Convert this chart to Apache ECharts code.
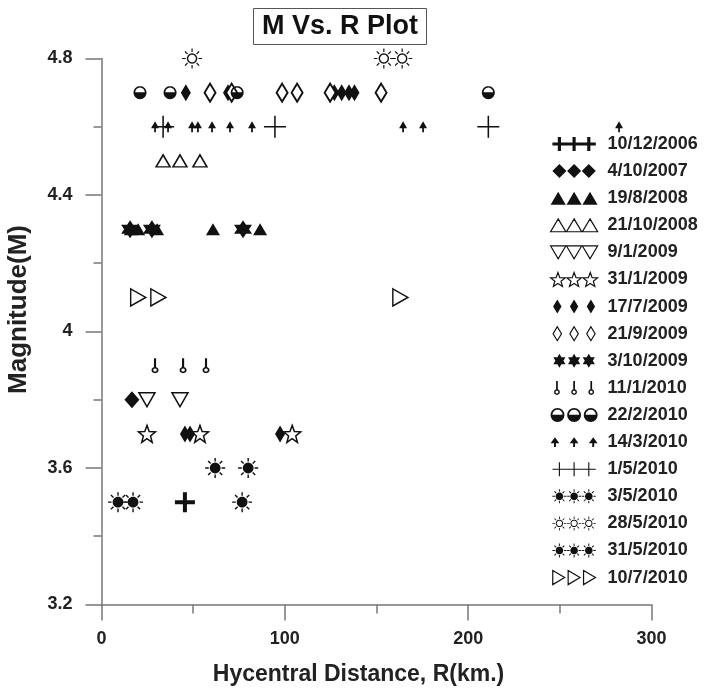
<!DOCTYPE html>
<html><head><meta charset="utf-8">
<script src="https://cdn.jsdelivr.net/npm/echarts@6/dist/echarts.min.js"></script>
<style>html,body{margin:0;padding:0;background:#fff}#c{width:709px;height:688px}</style>
</head><body><div id="c"></div>
<script>
// ---------- DATA ----------
const seriesNames = ['10/12/2006','4/10/2007','19/8/2008','21/10/2008','9/1/2009','31/1/2009','17/7/2009','21/9/2009','3/10/2009','11/1/2010','22/2/2010','14/3/2010','1/5/2010','3/5/2010','28/5/2010','31/5/2010','10/7/2010'];
const d_10_12_2006 = [[45.5,3.5]];
const d_4_10_2007  = [[16.6,3.8]];
const d_19_8_2008  = [[16,4.3],[20,4.3],[30.3,4.3],[60.8,4.3],[86.5,4.3]];
const d_21_10_2008 = [[33.6,4.5],[42.8,4.5],[53.7,4.5]];
const d_9_1_2009   = [[24.8,3.8],[42.8,3.8]];
const d_31_1_2009  = [[24.8,3.7],[53.7,3.7],[104,3.7]];
const d_17_7_2009  = [[45.5,3.7],[48.3,3.7],[97.4,3.7],[46,4.7],[69,4.7],[127,4.7],[131,4.7],[135,4.7],[138,4.7]];
const d_21_9_2009  = [[59.2,4.7],[71,4.7],[98.5,4.7],[106.7,4.7],[124.7,4.7],[152.5,4.7]];
const d_3_10_2009  = [[15.6,4.3],[27.5,4.3],[77.2,4.3]];
const d_11_1_2010  = [[29.2,3.9],[44.5,3.9],[57,3.9]];
const d_22_2_2010  = [[21,4.7],[37.4,4.7],[74,4.7],[211,4.7]];
const d_14_3_2010  = [[29.2,4.6],[36.3,4.6],[49.4,4.6],[52.6,4.6],[60.3,4.6],[70.1,4.6],[82.1,4.6],[164.5,4.6],[175.4,4.6],[282.3,4.6]];
const d_1_5_2010   = [[33.6,4.6],[94.6,4.6],[211,4.6]];
const d_3_5_2010   = [[9,3.5],[17.2,3.5],[76.7,3.5]];
const d_28_5_2010  = [[49.4,4.8],[154,4.8],[164,4.8]];
const d_31_5_2010  = [[62,3.6],[80,3.6]];
const d_10_7_2010  = [[20,4.1],[31,4.1],[163,4.1]];
const allData = [d_10_12_2006,d_4_10_2007,d_19_8_2008,d_21_10_2008,d_9_1_2009,d_31_1_2009,d_17_7_2009,d_21_9_2009,d_3_10_2009,d_11_1_2010,d_22_2_2010,d_14_3_2010,d_1_5_2010,d_3_5_2010,d_28_5_2010,d_31_5_2010,d_10_7_2010];
const xTicks = [0,100,200,300];
const yTicks = [3.2,3.6,4.0,4.4,4.8];

// ---------- SYMBOL GEOMETRY ----------
function ps(pts){return 'M'+pts.map(p=>p[0].toFixed(2)+','+p[1].toFixed(2)).join('L')+'Z';}
function circ(cx,cy,r,ccw,n){n=n||28;const a=[];for(let k=0;k<n;k++){const t=2*Math.PI*k/n;a.push([cx+r*Math.cos(t),cy+r*Math.sin(t)]);}if(ccw)a.reverse();return a;}
function sh(pts,dx){return pts.map(p=>[p[0]+dx,p[1]]);}
function rays(cx,cy,r1,r2,w){const out=[];for(let k=0;k<8;k++){const t=Math.PI*k/4,ux=Math.cos(t),uy=Math.sin(t),nx=-uy,ny=ux;out.push([[cx+r1*ux+w*nx,cy+r1*uy+w*ny],[cx+r2*ux+w*nx,cy+r2*uy+w*ny],[cx+r2*ux-w*nx,cy+r2*uy-w*ny],[cx+r1*ux-w*nx,cy+r1*uy-w*ny]]);}return out;}
function star5(){const a=[];for(let k=0;k<10;k++){const t=-Math.PI/2+k*Math.PI/5,r=k%2?4.2:10;a.push([10+r*Math.cos(t),10+r*Math.sin(t)]);}return a;}
function halfHole(){const a=[];const n=16;for(let k=0;k<=n;k++){const t=2*Math.PI-Math.PI*k/n;a.push([10+7.3*Math.cos(t),9.6+7.3*Math.sin(t)]);}return a;}
const shapes = {
  boldPlus:[[[8,0],[12,0],[12,8],[20,8],[20,12],[12,12],[12,20],[8,20],[8,12],[0,12],[0,8],[8,8]]],
  thinPlus:[[[9.3,0],[10.7,0],[10.7,9.3],[20,9.3],[20,10.7],[10.7,10.7],[10.7,20],[9.3,20],[9.3,10.7],[0,10.7],[0,9.3],[9.3,9.3]]],
  diamond:[[[10,0],[20,10],[10,20],[0,10]]],
  tri:[[[10,0],[20,17],[0,17]]],
  dtri:[[[0,0],[20,0],[10,17]]],
  star:[star5()],
  ndiamond:[[[10,0],[16,10],[10,20],[4,10]]],
  hexa:[[[10,0],[18.66,15],[1.34,15]],[[10,20],[1.34,5],[18.66,5]]],
  thermo:[[[8.8,0],[11.2,0],[11.2,11.6],[8.8,11.6]],circ(10,15.6,4,false),circ(10,15.6,2,true)],
  half:[circ(10,10,10,false,32),halfHole()],
  spade:[[[10,0],[15.5,7.5],[4.5,7.5]],[[8.8,7],[11.2,7],[11.2,12],[8.8,12]]],
  sunF:[circ(10,10,5.4,false)].concat(rays(10,10,6.4,10,0.7)),
  sunO:[circ(10,10,5.2,false),circ(10,10,3.8,true)].concat(rays(10,10,6.4,10,0.6)),
  rtri:[[[0,0],[17,10],[0,20]]]
};
function sym(name){return 'path://'+shapes[name].map(ps).join(' ');}
function triple(name,gap){gap=gap||21;let s=[];[0,gap,2*gap].forEach(dx=>shapes[name].forEach(p=>s.push(ps(sh(p,dx)))));return 'path://'+s.join(' ');}
function barLegend(h,w){const s=[ps([[0,10-h/2],[62,10-h/2],[62,10+h/2],[0,10+h/2]])];[10,31,52].forEach(c=>s.push(ps([[c-w/2,0],[c+w/2,0],[c+w/2,20],[c-w/2,20]])));return 'path://'+s.join(' ');}

const FILL='#111';
const styleDefs = [
  {shape:'boldPlus', size:[20,20], fill:FILL, legend:barLegend(4.5,4.5)},
  {shape:'diamond', size:[15,17], fill:FILL},
  {shape:'tri', size:[14,12], fill:FILL},
  {shape:'tri', size:[14,12], open:true},
  {shape:'dtri', size:[16,14], open:true},
  {shape:'star', size:[17,17], open:true},
  {shape:'ndiamond', size:[10,17], fill:FILL, gap:24},
  {shape:'ndiamond', size:[11,18], open:true, bw:2, gap:24},
  {shape:'hexa', size:[18,18], fill:FILL},
  {shape:'thermo', size:[7,15], fill:FILL, gap:24},
  {shape:'half', size:[13,13], fill:FILL, gap:24},
  {shape:'spade', size:[8,11], fill:FILL, gap:24},
  {shape:'thinPlus', size:[22,22], fill:FILL, legend:barLegend(1.6,1.6)},
  {shape:'sunF', size:[20,20], fill:FILL},
  {shape:'sunO', size:[20,20], fill:FILL},
  {shape:'sunF', size:[20,20], fill:FILL},
  {shape:'rtri', size:[15,17], open:true, gap:22}
];

const series = seriesNames.map((nm,i)=>{
  const st = styleDefs[i];
  return {
    name:nm, type:'scatter', data:allData[i],
    symbol:sym(st.shape), symbolSize:st.size, symbolKeepAspect:false,
    itemStyle: st.open ? {color:'#fff', borderColor:'#111', borderWidth:st.bw||1.5, opacity:1}
                       : {color:st.fill, borderWidth:0, opacity:1},
    emphasis:{disabled:true}, z: 2
  };
});
const legendData = seriesNames.map((nm,i)=>({
  name:nm,
  icon: styleDefs[i].legend || triple(styleDefs[i].shape, styleDefs[i].gap),
  itemStyle: styleDefs[i].open ? {color:'#fff', borderColor:'#111', borderWidth:1.2} : {color:FILL, borderWidth:0}
}));

const FONT = 'Liberation Sans, Arial, sans-serif';
const chart = echarts.init(document.getElementById('c'), null, {renderer:'canvas'});
chart.setOption({
  animation:false,
  backgroundColor:'#fff',
  title:{text:'M Vs. R Plot', left:253, top:8, padding:[5,9,5,9], borderWidth:1, borderColor:'#555',
    textStyle:{fontFamily:FONT, fontSize:27, fontWeight:'bold', color:'#111'}},
  legend:{orient:'vertical', left:550, top:134, padding:0, itemWidth:47, itemHeight:14, itemGap:7.1,
    selectedMode:false, data:legendData,
    textStyle:{fontFamily:FONT, fontSize:18, fontWeight:'bold', color:'#222', lineHeight:20, padding:[0,0,0,5]}},
  grid:{left:101.5, right:57.5, top:58.5, bottom:83.5, containLabel:false, outerBoundsMode:'none'},
  xAxis:{type:'value', min:xTicks[0], max:xTicks[xTicks.length-1], interval:100,
    name:'Hycentral Distance, R(km.)', nameLocation:'middle', nameGap:59,
    nameTextStyle:{fontFamily:FONT, fontSize:23, fontWeight:'bold', color:'#222', padding:[0,36,0,0]},
    axisLine:{show:true, lineStyle:{color:'#777', width:1.5}},
    axisTick:{show:true, inside:false, length:16, lineStyle:{color:'#777', width:1.5}},
    minorTick:{show:true, splitNumber:2, length:9, lineStyle:{color:'#777', width:1.5}},
    splitLine:{show:false}, minorSplitLine:{show:false},
    axisLabel:{fontFamily:FONT, fontSize:18, fontWeight:'bold', color:'#222', margin:26}},
  yAxis:{type:'value', min:yTicks[0], max:yTicks[yTicks.length-1], interval:0.4,
    name:'Magnitude(M)', nameLocation:'middle', nameGap:70, nameRotate:90,
    nameTextStyle:{fontFamily:FONT, fontSize:26, fontWeight:'bold', color:'#222', padding:[0,0,0,44]},
    axisLine:{show:true, lineStyle:{color:'#777', width:1.5}},
    axisTick:{show:true, inside:false, length:16, lineStyle:{color:'#777', width:1.5}},
    minorTick:{show:true, splitNumber:2, length:8, lineStyle:{color:'#777', width:1.5}},
    splitLine:{show:false}, minorSplitLine:{show:false},
    axisLabel:{fontFamily:FONT, fontSize:18, fontWeight:'bold', color:'#222', margin:29}},
  series: series
});
</script></body></html>
